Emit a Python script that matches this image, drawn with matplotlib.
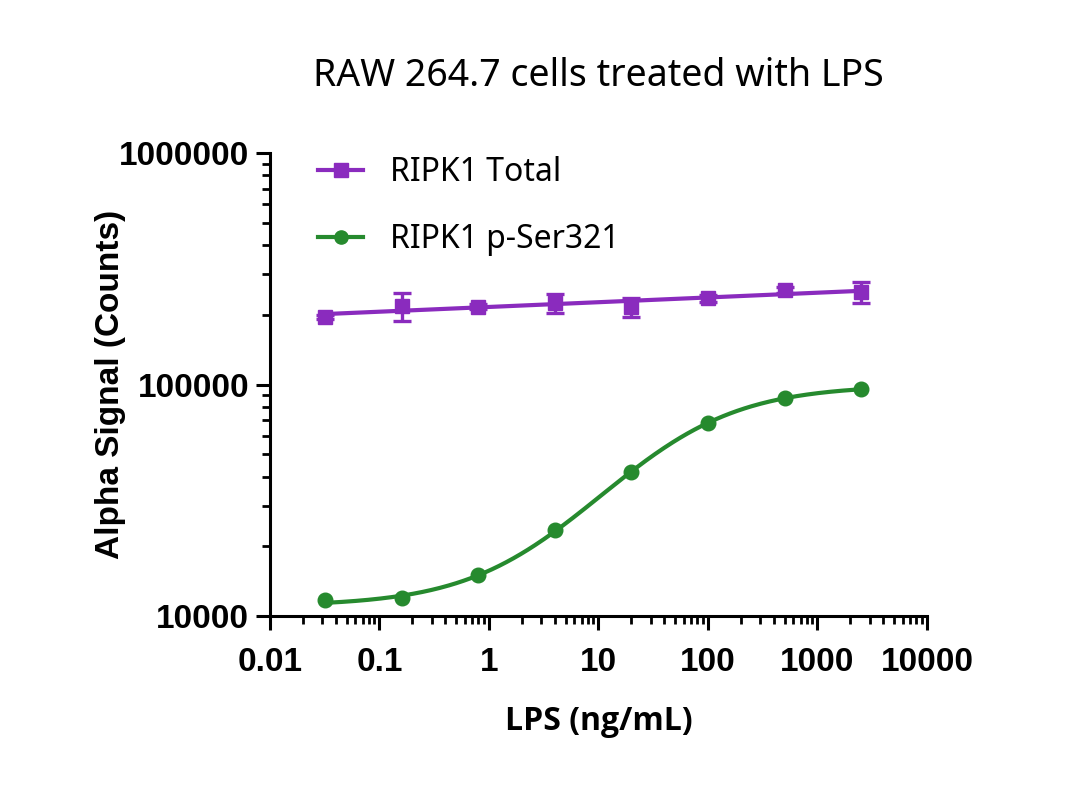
import numpy as np
import matplotlib
matplotlib.use("Agg")
import matplotlib.pyplot as plt
from matplotlib.ticker import LogLocator, FixedLocator, NullFormatter

# ---- data ----
lps = [0.032, 0.16, 0.8, 4, 20, 100, 500, 2500]
total_mean = [196000, 218000, 217000, 225000, 216000, 236000, 256000, 252000]
total_sd = [4000, 30000, 6000, 21000, 20000, 8000, 8000, 26000]
pser_mean = [11700, 11950, 15000, 23500, 41800, 68000, 87200, 95600]
x_ticks = [0.01, 0.1, 1, 10, 100, 1000, 10000]
x_tick_labels = ["0.01", "0.1", "1", "10", "100", "1000", "10000"]
y_ticks = [10000, 100000, 1000000]
y_tick_labels = ["10000", "100000", "1000000"]
series_names = ["RIPK1 Total", "RIPK1 p-Ser321"]

PURPLE = "#8A2BBE"
GREEN = "#268A2E"

x = np.array(lps, float)
lx = np.log10(x)

# fitted curve for total: linear fit in log-log space
p = np.polyfit(lx, np.log10(total_mean), 1)
xf = np.logspace(lx.min(), lx.max(), 300)
tot_fit = 10 ** np.polyval(p, np.log10(xf))

# 4PL fit for phospho series (grid search on EC50 / Hill, linear LSQ on bottom/top)
yp = np.array(pser_mean, float)
best = None
for le in np.linspace(-1, 3, 401):
    for h in np.linspace(0.3, 2.0, 171):
        s = 1.0 / (1.0 + (10 ** le / x) ** h)
        A = np.column_stack([1 - s, s])
        coef, *_ = np.linalg.lstsq(A, yp, rcond=None)
        r = np.sum(((A @ coef - yp) / yp) ** 2)
        if best is None or r < best[0]:
            best = (r, le, h, coef)
_, le, h, coef = best
sf = 1.0 / (1.0 + (10 ** le / xf) ** h)
ps_fit = coef[0] * (1 - sf) + coef[1] * sf

fig = plt.figure(figsize=(10.8, 7.95), dpi=100)
ax = fig.add_axes([0.25, 0.2252, 0.6083, 0.5823])

ax.set_xscale("log")
ax.set_yscale("log")

LW = 3.0
ax.plot(xf, tot_fit, color=PURPLE, lw=LW, zorder=2)
ax.errorbar(x, total_mean, yerr=total_sd, fmt="s", color=PURPLE, ms=10.5,
            elinewidth=2.4, capsize=6.5, capthick=2.4, zorder=3)
ax.plot(xf, ps_fit, color=GREEN, lw=LW, zorder=2)
ax.plot(x, pser_mean, "o", color=GREEN, ms=10.5, zorder=3)

# legend handles
h1, = ax.plot([], [], "-s", color=PURPLE, lw=LW, ms=9.5)
h2, = ax.plot([], [], "-o", color=GREEN, lw=LW, ms=9.5)
leg = ax.legend([h1, h2], series_names, loc="upper left",
                bbox_to_anchor=(0.03, 1.055), frameon=False,
                prop={"family": "Noto Sans", "size": 23},
                handlelength=1.4, handletextpad=0.85, labelspacing=1.05)

ax.set_xlim(0.01, 10000)
ax.set_ylim(10000, 1000000)

ax.xaxis.set_major_locator(FixedLocator(x_ticks))
ax.set_xticklabels(x_tick_labels)
ax.yaxis.set_major_locator(FixedLocator(y_ticks))
ax.set_yticklabels(y_tick_labels)
ax.xaxis.set_minor_locator(LogLocator(base=10, subs=np.arange(2, 10)))
ax.yaxis.set_minor_locator(LogLocator(base=10, subs=np.arange(2, 10)))
ax.xaxis.set_minor_formatter(NullFormatter())
ax.yaxis.set_minor_formatter(NullFormatter())

for lab in ax.get_xticklabels() + ax.get_yticklabels():
    lab.set_family("Liberation Sans")
    lab.set_fontweight("bold")
    lab.set_fontsize(24)

ax.tick_params(which="major", length=10, width=2.2, direction="out")
ax.tick_params(axis="x", which="major", pad=12)
ax.tick_params(axis="y", which="major", pad=5)
ax.tick_params(which="minor", length=5.5, width=2.0, direction="out")

for side in ["top", "right"]:
    ax.spines[side].set_visible(False)
for side in ["left", "bottom"]:
    ax.spines[side].set_linewidth(2.2)

ax.set_xlabel("LPS (ng/mL)", family="Open Sans", fontweight="bold",
              fontsize=23, labelpad=20)
ax.set_ylabel("Alpha Signal (Counts)", family="Liberation Sans",
              fontweight="bold", fontsize=24, labelpad=-5)

fig.text(0.554, 0.905, "RAW 264.7 cells treated with LPS", ha="center",
         va="center", family="Noto Sans", fontsize=27)

fig.savefig("out.png", dpi=100)
